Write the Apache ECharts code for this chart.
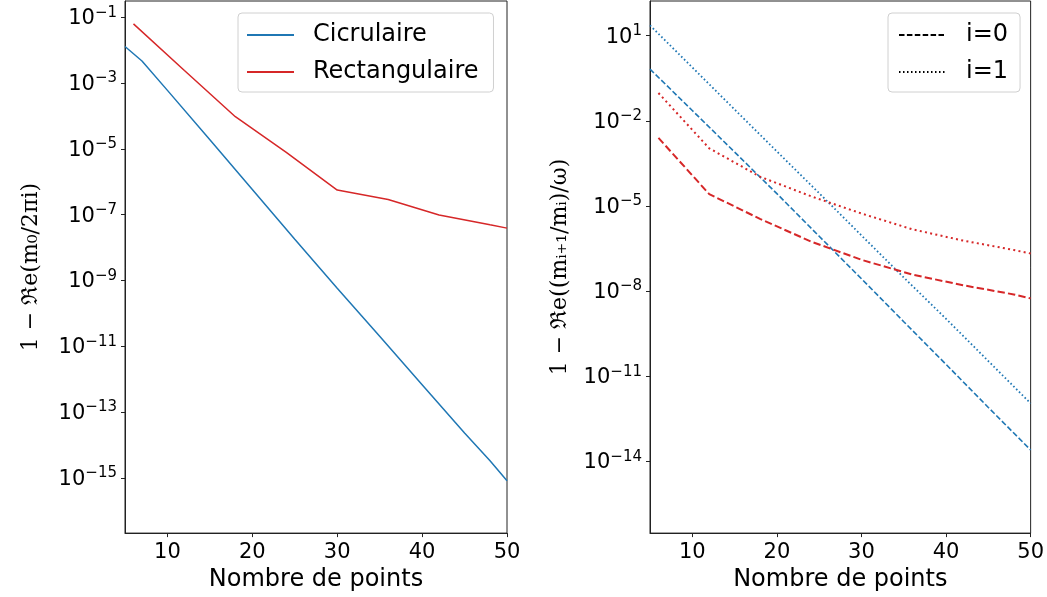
<!DOCTYPE html>
<html>
<head>
<meta charset="utf-8">
<script src="https://cdn.jsdelivr.net/npm/echarts@6/dist/echarts.min.js"></script>
<style>
html,body{margin:0;padding:0;background:#fff;}
#chart{width:1047px;height:597px;}
</style>
</head>
<body>
<div id="chart"></div>
<script>
// ---- data ----
const xTicks = [10, 20, 30, 40, 50];
const yTicksLeft = [1e-1, 1e-3, 1e-5, 1e-7, 1e-9, 1e-11, 1e-13, 1e-15];
const yTicksRight = [1e1, 1e-2, 1e-5, 1e-8, 1e-11, 1e-14];

// Left panel
const xCirc = [5, 6, 7, 10, 15, 20, 25, 30, 35, 40, 45, 48, 50];
const yCirc = [1.29e-2, 7.8e-3, 4.7e-3, 6.0e-4, 1.9e-5, 5.8e-7, 1.8e-8, 5.8e-10, 2.0e-11, 6.8e-13, 2.3e-14, 3.3e-15, 8.1e-16];
const xRect = [6, 12, 18, 24, 30, 36, 42, 48, 50];
const yRect = [6.3e-2, 2.4e-3, 9.5e-5, 7.8e-6, 5.6e-7, 2.9e-7, 9.8e-8, 4.9e-8, 3.9e-8];

// Right panel
const xCircR = [5, 10, 15, 20, 25, 30, 35, 40, 45, 50];
const yCirc0 = [0.66, 2.3e-2, 7.9e-4, 2.7e-5, 8.5e-7, 2.7e-8, 8.3e-10, 2.6e-11, 7.9e-13, 2.5e-14];
const yCirc1 = [23, 0.76, 2.5e-2, 8.3e-4, 2.8e-5, 9.1e-7, 3.0e-8, 1.05e-9, 3.4e-11, 1.1e-12];
const xRectR = [6, 12, 18, 24, 30, 36, 42, 48, 50];
const yRect0 = [2.5e-3, 2.6e-5, 3.5e-6, 5.6e-7, 1.26e-7, 3.8e-8, 1.6e-8, 7.6e-9, 5.5e-9];
const yRect1 = [9.5e-2, 1.07e-3, 1.07e-4, 2.2e-5, 5.4e-6, 1.5e-6, 6.0e-7, 2.8e-7, 2.1e-7];

const BLUE = '#1f77b4';
const RED = '#d62728';
const FONT = 'DejaVu Sans';

function zip(xs, ys) { return xs.map((x, i) => [x, ys[i]]); }

function powLabel(v) {
  const e = Math.round(Math.log10(v));
  return '{b|10}{s|' + (e < 0 ? '\u2212' : '') + Math.abs(e) + '}';
}
const powRich = {
  b: { fontSize: 21, fontFamily: FONT, color: '#000', lineHeight: 24, verticalAlign: 'bottom' },
  s: { fontSize: 15, fontFamily: FONT, color: '#000', lineHeight: 15, verticalAlign: 'top' }
};

function xAxisDef(gi) {
  return {
    type: 'value', gridIndex: gi, min: 5, max: 50,
    name: 'Nombre de points', nameLocation: 'middle', nameGap: 33,
    nameTextStyle: { fontSize: 24, fontFamily: FONT, color: '#000' },
    axisLine: { show: true, lineStyle: { color: '#222', width: 1 } },
    axisTick: { show: true, length: 4, customValues: xTicks, lineStyle: { color: '#222', width: 1 } },
    axisLabel: { customValues: xTicks, fontSize: 21, fontFamily: FONT, color: '#000', margin: 9 },
    splitLine: { show: false }
  };
}
function yAxisDef(gi, lo, hi, ticks, name, gap) {
  return {
    type: 'log', logBase: 10, gridIndex: gi, min: Math.pow(10, lo), max: Math.pow(10, hi),
    name: name, nameLocation: 'middle', nameGap: gap,
    nameTextStyle: { fontSize: 22, fontFamily: 'DejaVu Serif', color: '#000' },
    axisLine: { show: true, lineStyle: { color: '#222', width: 1 } },
    axisTick: { show: true, length: 4, customValues: ticks, lineStyle: { color: '#222', width: 1 } },
    axisLabel: { customValues: ticks, formatter: powLabel, rich: powRich, margin: 8 },
    splitLine: { show: false }
  };
}

const legendCommon = {
  orient: 'vertical', top: 13, itemGap: 13, itemHeight: 14,
  borderColor: '#d0d0d0', borderWidth: 1, borderRadius: 4, backgroundColor: 'rgba(255,255,255,0.8)',
  itemStyle: { opacity: 0 }
};

const chart = echarts.init(document.getElementById('chart'), null, { renderer: 'canvas' });
chart.setOption({
  animation: false,
  backgroundColor: '#fff',
  grid: [
    { left: 125, top: 1, width: 382, height: 533, show: true, borderColor: '#222', borderWidth: 1, backgroundColor: 'transparent' },
    { left: 650, top: 1, width: 382, height: 534, show: true, borderColor: '#222', borderWidth: 1, backgroundColor: 'transparent' }
  ],
  xAxis: [xAxisDef(0), xAxisDef(1)],
  yAxis: [
    yAxisDef(0, -16.68, -0.505, yTicksLeft, '1 \u2212 \u211Ce(m\u2080/2\u03C0i)', 83),
    yAxisDef(1, -16.53, 2.22, yTicksRight, '1 \u2212 \u211Ce((m\u1D62\u208A\u2081/m\u1D62)/\u03C9)', 79)
  ],
  legend: [
    Object.assign({}, legendCommon, {
      data: ['Cicrulaire', 'Rectangulaire'], left: 238,
      padding: [10, 15, 8, 8], itemWidth: 47,
      textStyle: { fontSize: 24, fontFamily: FONT, color: '#000', padding: [0, 0, 0, 14] }
    }),
    Object.assign({}, legendCommon, {
      data: ['i=0', 'i=1'], left: 888,
      padding: [10, 12, 8, 10], itemWidth: 46,
      textStyle: { fontSize: 24, fontFamily: FONT, color: '#000', padding: [0, 0, 0, 16] }
    })
  ],
  series: [
    { name: 'Cicrulaire', type: 'line', xAxisIndex: 0, yAxisIndex: 0, data: zip(xCirc, yCirc),
      symbol: 'none', showSymbol: false, color: BLUE, lineStyle: { color: BLUE, width: 1.5 } },
    { name: 'Rectangulaire', type: 'line', xAxisIndex: 0, yAxisIndex: 0, data: zip(xRect, yRect),
      symbol: 'none', showSymbol: false, color: RED, lineStyle: { color: RED, width: 1.5 } },

    { name: 'circ i=0', type: 'line', xAxisIndex: 1, yAxisIndex: 1, data: zip(xCircR, yCirc0),
      symbol: 'none', showSymbol: false, color: BLUE, lineStyle: { color: BLUE, width: 1.6, type: [5.5, 2.4] } },
    { name: 'circ i=1', type: 'line', xAxisIndex: 1, yAxisIndex: 1, data: zip(xCircR, yCirc1),
      symbol: 'none', showSymbol: false, color: BLUE, lineStyle: { color: BLUE, width: 1.8, type: [1.6, 2.4] } },
    { name: 'rect i=0', type: 'line', xAxisIndex: 1, yAxisIndex: 1, data: zip(xRectR, yRect0),
      symbol: 'none', showSymbol: false, color: RED, lineStyle: { color: RED, width: 2, type: [7.4, 3.2] } },
    { name: 'rect i=1', type: 'line', xAxisIndex: 1, yAxisIndex: 1, data: zip(xRectR, yRect1),
      symbol: 'none', showSymbol: false, color: RED, lineStyle: { color: RED, width: 2, type: [2, 3.3] } },

    { name: 'i=0', type: 'line', xAxisIndex: 1, yAxisIndex: 1, data: [],
      symbol: 'none', color: '#000', lineStyle: { color: '#000', width: 1.5, type: [5.5, 2.4] } },
    { name: 'i=1', type: 'line', xAxisIndex: 1, yAxisIndex: 1, data: [],
      symbol: 'none', color: '#000', lineStyle: { color: '#000', width: 1.5, type: [1.5, 2.5] } }
  ]
});
</script>
</body>
</html>
